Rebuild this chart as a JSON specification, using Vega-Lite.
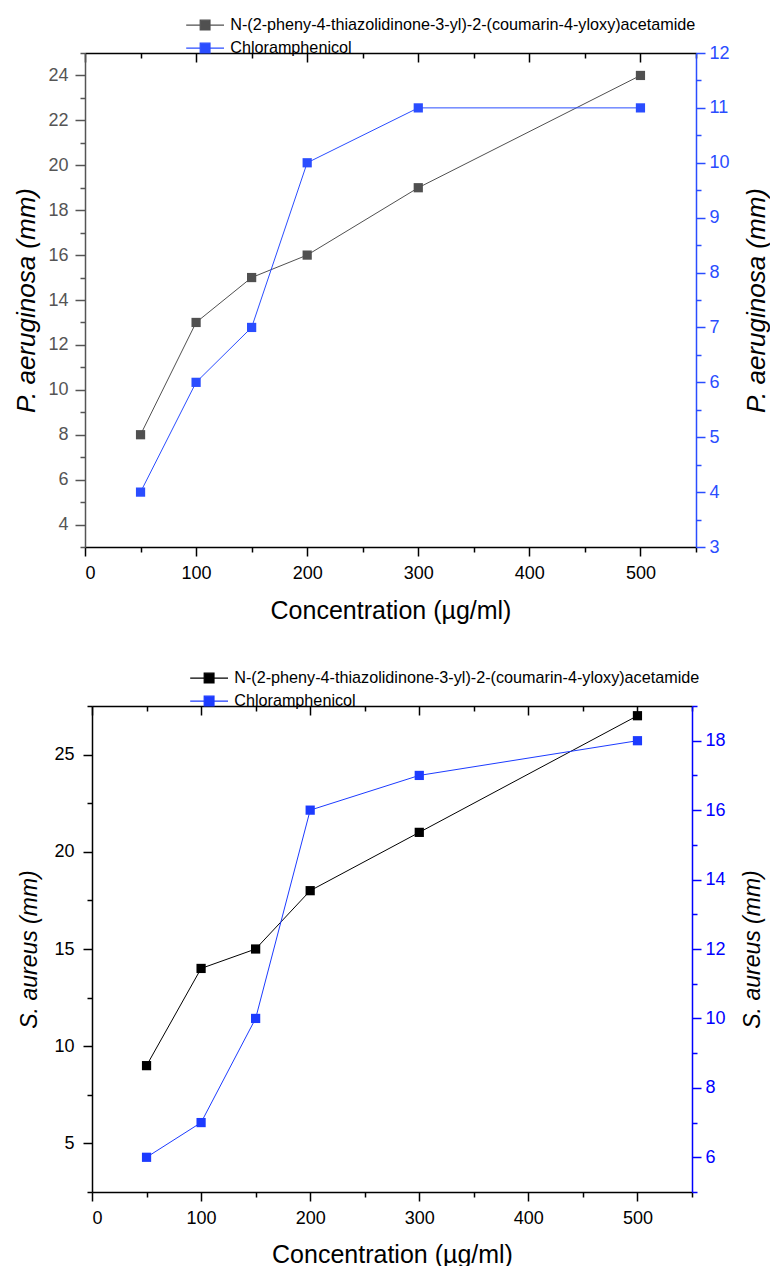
{
  "$schema": "https://vega.github.io/schema/vega-lite/v6.json",
  "background": "white",
  "padding": {"left": 13, "top": 17, "right": 0, "bottom": 0},
  "config": {
    "view": {"stroke": null},
    "font": "Liberation Sans",
    "axis": {"grid": false, "labelFont": "Liberation Sans", "titleFont": "Liberation Sans", "labelFontSize": 18, "titleFontSize": 25, "titleFontWeight": "normal", "domainWidth": 1.5, "tickWidth": 1.5, "domainColor": "black", "tickColor": "black", "labelColor": "black", "titleColor": "black", "format": "d"},
    "legend": {"orient": "none", "title": null, "padding": 0, "symbolType": "M-2.7,0H-0.7M0.7,0H2.7M-0.7,-0.7H0.7V0.7H-0.7Z", "symbolSize": 196, "symbolStrokeWidth": 1.2, "labelFont": "Liberation Sans", "labelFontSize": 16.2, "labelColor": "black", "labelOffset": 17, "labelLimit": 1000, "rowPadding": 6, "direction": "vertical", "legendY": -36}
  },
  "datasets": {
    "pa_cmp": [
      {"series": "N-(2-pheny-4-thiazolidinone-3-yl)-2-(coumarin-4-yloxy)acetamide", "conc": 50, "val": 8},
      {"series": "N-(2-pheny-4-thiazolidinone-3-yl)-2-(coumarin-4-yloxy)acetamide", "conc": 100, "val": 13},
      {"series": "N-(2-pheny-4-thiazolidinone-3-yl)-2-(coumarin-4-yloxy)acetamide", "conc": 150, "val": 15},
      {"series": "N-(2-pheny-4-thiazolidinone-3-yl)-2-(coumarin-4-yloxy)acetamide", "conc": 200, "val": 16},
      {"series": "N-(2-pheny-4-thiazolidinone-3-yl)-2-(coumarin-4-yloxy)acetamide", "conc": 300, "val": 19},
      {"series": "N-(2-pheny-4-thiazolidinone-3-yl)-2-(coumarin-4-yloxy)acetamide", "conc": 500, "val": 24}
    ],
    "pa_chl": [
      {"series": "Chloramphenicol", "conc": 50, "val": 4},
      {"series": "Chloramphenicol", "conc": 100, "val": 6},
      {"series": "Chloramphenicol", "conc": 150, "val": 7},
      {"series": "Chloramphenicol", "conc": 200, "val": 10},
      {"series": "Chloramphenicol", "conc": 300, "val": 11},
      {"series": "Chloramphenicol", "conc": 500, "val": 11}
    ],
    "sa_cmp": [
      {"series": "N-(2-pheny-4-thiazolidinone-3-yl)-2-(coumarin-4-yloxy)acetamide", "conc": 50, "val": 9},
      {"series": "N-(2-pheny-4-thiazolidinone-3-yl)-2-(coumarin-4-yloxy)acetamide", "conc": 100, "val": 14},
      {"series": "N-(2-pheny-4-thiazolidinone-3-yl)-2-(coumarin-4-yloxy)acetamide", "conc": 150, "val": 15},
      {"series": "N-(2-pheny-4-thiazolidinone-3-yl)-2-(coumarin-4-yloxy)acetamide", "conc": 200, "val": 18},
      {"series": "N-(2-pheny-4-thiazolidinone-3-yl)-2-(coumarin-4-yloxy)acetamide", "conc": 300, "val": 21},
      {"series": "N-(2-pheny-4-thiazolidinone-3-yl)-2-(coumarin-4-yloxy)acetamide", "conc": 500, "val": 27}
    ],
    "sa_chl": [
      {"series": "Chloramphenicol", "conc": 50, "val": 6},
      {"series": "Chloramphenicol", "conc": 100, "val": 7},
      {"series": "Chloramphenicol", "conc": 150, "val": 10},
      {"series": "Chloramphenicol", "conc": 200, "val": 16},
      {"series": "Chloramphenicol", "conc": 300, "val": 17},
      {"series": "Chloramphenicol", "conc": 500, "val": 18}
    ]
  },
  "columns": 1,
  "align": "none",
  "spacing": 47,
  "resolve": {"scale": {"color": "independent"}},
  "concat": [
    {
      "width": 611,
      "height": 494,
      "resolve": {"scale": {"y": "independent"}},
      "layer": [
        {
          "data": {"name": "pa_cmp"},
          "mark": {"type": "line", "strokeWidth": 1, "point": {"shape": "square", "size": 85, "filled": true, "opacity": 1}},
          "encoding": {
            "x": {"field": "conc", "type": "quantitative", "scale": {"domain": [0, 550], "nice": false, "zero": false},
              "axis": {"orient": "bottom", "values": [0, 50, 100, 150, 200, 250, 300, 350, 400, 450, 500, 550], "labelExpr": "datum.value % 100 === 0 ? datum.label : ''", "tickSize": {"condition": {"test": "datum.value % 100 === 0", "value": 9}, "value": 5}, "labelPadding": 8, "title": "Concentration (µg/ml)", "titlePadding": 16}},
            "y": {"field": "val", "type": "quantitative", "scale": {"domain": [3, 25], "nice": false, "zero": false},
              "axis": {"orient": "left", "values": [3, 4, 5, 6, 7, 8, 9, 10, 11, 12, 13, 14, 15, 16, 17, 18, 19, 20, 21, 22, 23, 24, 25], "labelExpr": "datum.value % 2 === 0 ? datum.label : ''", "tickSize": {"condition": {"test": "datum.value % 2 === 0", "value": 10}, "value": 5}, "labelPadding": 7, "domainColor": "#555555", "tickColor": "#555555", "labelColor": "#555555", "title": "P. aeruginosa (mm)", "titleFontStyle": "italic", "titleFontSize": 26, "titlePadding": 8}},
            "color": {"field": "series", "type": "nominal",
              "scale": {"domain": ["N-(2-pheny-4-thiazolidinone-3-yl)-2-(coumarin-4-yloxy)acetamide", "Chloramphenicol"], "range": ["#505050", "#2a4dff"]},
              "legend": {"legendX": 112, "encode": {"symbols": {"update": {"fill": {"signal": "datum.value === 'Chloramphenicol' ? '#2a4dff' : '#505050'"}, "stroke": {"signal": "datum.value === 'Chloramphenicol' ? '#2a4dff' : '#505050'"}, "opacity": {"value": 1}}}}}}
          }
        },
        {
          "data": {"name": "pa_chl"},
          "mark": {"type": "line", "strokeWidth": 1, "point": {"shape": "square", "size": 85, "filled": true, "opacity": 1}},
          "encoding": {
            "x": {"field": "conc", "type": "quantitative",
              "axis": {"orient": "top", "values": [0, 50, 100, 150, 200, 250, 300, 350, 400, 450, 500, 550], "labels": false, "title": null, "tickSize": {"condition": {"test": "datum.value % 100 === 0", "value": -9}, "value": -5}}},
            "y": {"field": "val", "type": "quantitative", "scale": {"domain": [3, 12], "nice": false, "zero": false},
              "axis": {"orient": "right", "values": [3, 3.5, 4, 4.5, 5, 5.5, 6, 6.5, 7, 7.5, 8, 8.5, 9, 9.5, 10, 10.5, 11, 11.5, 12], "labelExpr": "datum.value % 1 === 0 ? datum.label : ''", "tickSize": {"condition": {"test": "datum.value % 1 === 0", "value": 9}, "value": 5}, "labelPadding": 4, "domainColor": "#2a4dff", "tickColor": "#2a4dff", "labelColor": "#2a4dff", "title": "P. aeruginosa (mm)", "titleFontStyle": "italic", "titleFontSize": 26, "titleAngle": 270, "titleBaseline": "top", "titlePadding": 14}},
            "color": {"field": "series", "type": "nominal"}
          }
        }
      ]
    },
    {
      "width": 607,
      "height": 486,
      "resolve": {"scale": {"y": "independent"}},
      "layer": [
        {
          "data": {"name": "sa_cmp"},
          "mark": {"type": "line", "strokeWidth": 1, "point": {"shape": "square", "size": 85, "filled": true, "opacity": 1}},
          "encoding": {
            "x": {"field": "conc", "type": "quantitative", "scale": {"domain": [0, 550], "nice": false, "zero": false, "range": [7, 607]},
              "axis": {"orient": "bottom", "values": [0, 50, 100, 150, 200, 250, 300, 350, 400, 450, 500, 550], "labelExpr": "datum.value % 100 === 0 ? datum.label : ''", "tickSize": {"condition": {"test": "datum.value % 100 === 0", "value": 9}, "value": 5}, "labelPadding": 8, "title": "Concentration (µg/ml)", "titlePadding": 15}},
            "y": {"field": "val", "type": "quantitative", "scale": {"domain": [2.5, 27.5], "nice": false, "zero": false},
              "axis": {"orient": "left", "offset": -7, "values": [2.5, 5, 7.5, 10, 12.5, 15, 17.5, 20, 22.5, 25, 27.5], "labelExpr": "datum.value % 5 === 0 ? datum.label : ''", "tickSize": {"condition": {"test": "datum.value % 5 === 0", "value": 9}, "value": 5}, "labelPadding": 9, "title": "S. aureus (mm)", "titleFontStyle": "italic", "titleFontSize": 23, "titlePadding": 12}},
            "color": {"field": "series", "type": "nominal",
              "scale": {"domain": ["N-(2-pheny-4-thiazolidinone-3-yl)-2-(coumarin-4-yloxy)acetamide", "Chloramphenicol"], "range": ["#000000", "#1c3bff"]},
              "legend": {"legendX": 116, "encode": {"symbols": {"update": {"fill": {"signal": "datum.value === 'Chloramphenicol' ? '#1c3bff' : '#000000'"}, "stroke": {"signal": "datum.value === 'Chloramphenicol' ? '#1c3bff' : '#000000'"}, "opacity": {"value": 1}}}}}}
          }
        },
        {
          "data": {"name": "sa_chl"},
          "mark": {"type": "line", "strokeWidth": 1, "point": {"shape": "square", "size": 85, "filled": true, "opacity": 1}},
          "encoding": {
            "x": {"field": "conc", "type": "quantitative",
              "axis": {"orient": "top", "values": [0, 50, 100, 150, 200, 250, 300, 350, 400, 450, 500, 550], "labels": false, "title": null, "tickSize": {"condition": {"test": "datum.value % 100 === 0", "value": -9}, "value": -5}}},
            "y": {"field": "val", "type": "quantitative", "scale": {"domain": [5, 19], "nice": false, "zero": false},
              "axis": {"orient": "right", "values": [5, 6, 7, 8, 9, 10, 11, 12, 13, 14, 15, 16, 17, 18, 19], "labelExpr": "datum.value % 2 === 0 ? datum.label : ''", "tickSize": {"condition": {"test": "datum.value % 2 === 0", "value": 9}, "value": 5}, "labelPadding": 4, "domainColor": "#0000ff", "tickColor": "#0000ff", "labelColor": "#0000ff", "title": "S. aureus (mm)", "titleFontStyle": "italic", "titleFontSize": 23, "titleAngle": 270, "titleBaseline": "top", "titlePadding": 16}},
            "color": {"field": "series", "type": "nominal"}
          }
        }
      ]
    }
  ]
}
